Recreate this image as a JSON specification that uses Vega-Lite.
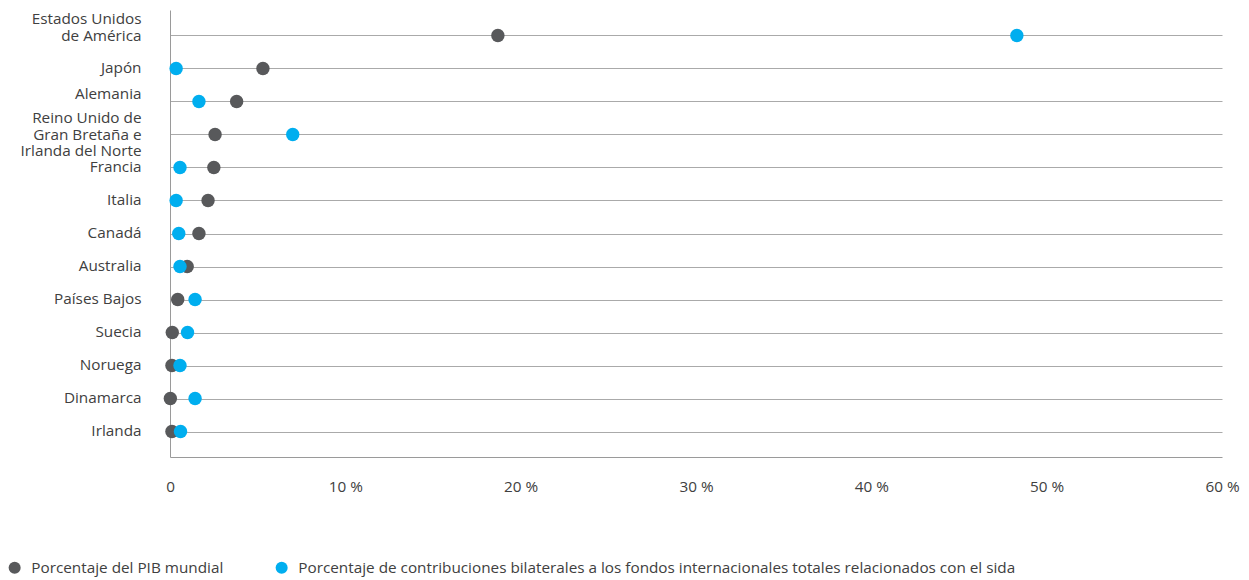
{
  "$schema": "https://vega.github.io/schema/vega-lite/v6.json",
  "autosize": {"type": "none"},
  "padding": {"left": 170, "top": 10, "right": 27, "bottom": 123},
  "width": 1052,
  "height": 447,
  "background": "white",
  "config": {
    "view": {"stroke": null},
    "font": "Open Sans",
    "axis": {"labelFont": "Open Sans", "labelFontSize": 15.3, "labelColor": "#404040"},
    "legend": {"labelFont": "Open Sans", "labelFontSize": 15.3, "labelColor": "#404040"}
  },
  "data": {
    "values": [
      {"country": "Estados Unidos|de América", "series": "Porcentaje del PIB mundial", "value": 18.7},
      {"country": "Japón", "series": "Porcentaje del PIB mundial", "value": 5.3},
      {"country": "Alemania", "series": "Porcentaje del PIB mundial", "value": 3.8},
      {"country": "Reino Unido de|Gran Bretaña e|Irlanda del Norte", "series": "Porcentaje del PIB mundial", "value": 2.57},
      {"country": "Francia", "series": "Porcentaje del PIB mundial", "value": 2.5},
      {"country": "Italia", "series": "Porcentaje del PIB mundial", "value": 2.17},
      {"country": "Canadá", "series": "Porcentaje del PIB mundial", "value": 1.65},
      {"country": "Australia", "series": "Porcentaje del PIB mundial", "value": 0.98},
      {"country": "Países Bajos", "series": "Porcentaje del PIB mundial", "value": 0.44},
      {"country": "Suecia", "series": "Porcentaje del PIB mundial", "value": 0.13},
      {"country": "Noruega", "series": "Porcentaje del PIB mundial", "value": 0.11},
      {"country": "Dinamarca", "series": "Porcentaje del PIB mundial", "value": 0.02},
      {"country": "Irlanda", "series": "Porcentaje del PIB mundial", "value": 0.11},
      {"country": "Estados Unidos|de América", "series": "Porcentaje de contribuciones bilaterales a los fondos internacionales totales relacionados con el sida", "value": 48.3},
      {"country": "Japón", "series": "Porcentaje de contribuciones bilaterales a los fondos internacionales totales relacionados con el sida", "value": 0.35},
      {"country": "Alemania", "series": "Porcentaje de contribuciones bilaterales a los fondos internacionales totales relacionados con el sida", "value": 1.65},
      {"country": "Reino Unido de|Gran Bretaña e|Irlanda del Norte", "series": "Porcentaje de contribuciones bilaterales a los fondos internacionales totales relacionados con el sida", "value": 7.0},
      {"country": "Francia", "series": "Porcentaje de contribuciones bilaterales a los fondos internacionales totales relacionados con el sida", "value": 0.57},
      {"country": "Italia", "series": "Porcentaje de contribuciones bilaterales a los fondos internacionales totales relacionados con el sida", "value": 0.35},
      {"country": "Canadá", "series": "Porcentaje de contribuciones bilaterales a los fondos internacionales totales relacionados con el sida", "value": 0.5},
      {"country": "Australia", "series": "Porcentaje de contribuciones bilaterales a los fondos internacionales totales relacionados con el sida", "value": 0.57},
      {"country": "Países Bajos", "series": "Porcentaje de contribuciones bilaterales a los fondos internacionales totales relacionados con el sida", "value": 1.43},
      {"country": "Suecia", "series": "Porcentaje de contribuciones bilaterales a los fondos internacionales totales relacionados con el sida", "value": 1.0},
      {"country": "Noruega", "series": "Porcentaje de contribuciones bilaterales a los fondos internacionales totales relacionados con el sida", "value": 0.57},
      {"country": "Dinamarca", "series": "Porcentaje de contribuciones bilaterales a los fondos internacionales totales relacionados con el sida", "value": 1.43},
      {"country": "Irlanda", "series": "Porcentaje de contribuciones bilaterales a los fondos internacionales totales relacionados con el sida", "value": 0.6}
    ]
  },
  "mark": {"type": "point", "filled": true, "size": 180, "opacity": 1},
  "encoding": {
    "y": {
      "field": "country",
      "type": "nominal",
      "sort": null,
      "scale": {"type": "point", "padding": 0.77},
      "axis": {
        "title": null,
        "grid": true,
        "gridColor": "#aaaaaa",
        "gridWidth": 1,
        "domain": true,
        "domainColor": "#9a9a9a",
        "domainWidth": 1,
        "ticks": false,
        "labelPadding": 29,
        "labelLineHeight": 16.5,
        "labelOffset": {
          "condition": [
            {"test": "indexof(datum.label, '|') >= 0", "value": -16.5},
            {"test": "datum.label == 'Alemania'", "value": -8}
          ],
          "value": -1
        },
        "labelExpr": "split(datum.label, '|')"
      }
    },
    "x": {
      "field": "value",
      "type": "quantitative",
      "scale": {"domain": [0, 60], "nice": false},
      "axis": {
        "title": null,
        "grid": false,
        "values": [0, 10, 20, 30, 40, 50, 60],
        "domain": true,
        "domainColor": "#9a9a9a",
        "domainWidth": 1,
        "ticks": false,
        "labelPadding": 22,
        "labelFlush": false,
        "labelExpr": "datum.value == 0 ? '0' : datum.value + ' %'"
      }
    },
    "color": {
      "field": "series",
      "type": "nominal",
      "sort": null,
      "scale": {
        "domain": ["Porcentaje del PIB mundial", "Porcentaje de contribuciones bilaterales a los fondos internacionales totales relacionados con el sida"],
        "range": ["#58595b", "#00aeef"]
      },
      "legend": {
        "title": null,
        "orient": "none",
        "direction": "horizontal",
        "legendX": -163,
        "legendY": 550,
        "symbolType": "circle",
        "symbolSize": 145,
        "symbolStrokeWidth": 0,
        "labelOffset": 9,
        "labelLimit": 1000,
        "columnPadding": 50
      }
    }
  }
}
